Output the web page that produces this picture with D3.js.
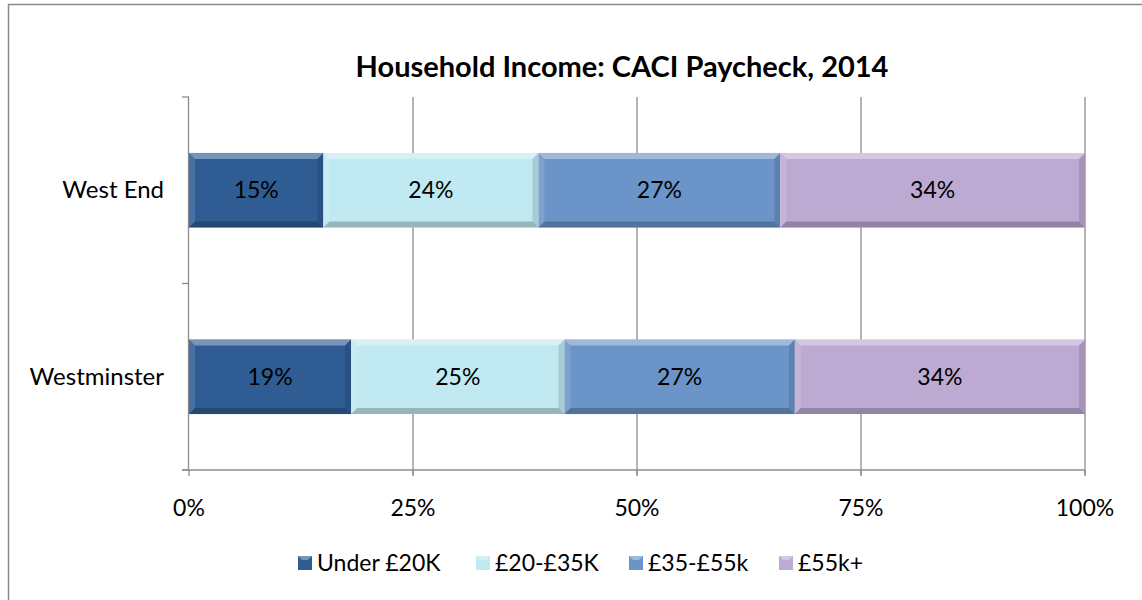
<!DOCTYPE html>
<html>
<head>
<meta charset="utf-8">
<script src="https://cdn.jsdelivr.net/npm/d3@7"></script>
<style>
  body { margin: 0; background: #fff; }
  text { font-family: Lato, "Open Sans", sans-serif; fill: #000; }
</style>
</head>
<body>
<div id="chart"></div>
<script>
const categories = ['West End', 'Westminster'];
const series = ['Under £20K', '£20-£35K', '£35-£55k', '£55k+'];
const westEnd = [15, 24, 27, 34];
const westminster = [19, 25, 27, 34];
const ticks = [0, 0.25, 0.5, 0.75, 1];
const colors = ['#2f5d93', '#c0e9f1', '#6b94c9', '#bdaad3'];

const W = 1142, H = 600;
const rows = [westEnd, westminster];

const svg = d3.select('#chart').append('svg')
    .attr('width', W)
    .attr('height', H);

// chart frame
svg.append('rect')
    .attr('x', 8.5).attr('y', 4.5)
    .attr('width', W + 10).attr('height', H + 10)
    .attr('fill', 'none')
    .attr('stroke', '#8a8a8a')
    .attr('stroke-width', 1.5);

svg.append('text')
    .attr('x', 622).attr('y', 77)
    .attr('text-anchor', 'middle')
    .style('font-size', '29px')
    .style('font-weight', 'bold')
    .text('Household Income: CACI Paycheck, 2014');

const x = d3.scaleLinear().domain([0, 1]).range([189, 1085]);
const y = d3.scaleBand().domain(categories).range([97, 470]).paddingInner(0.6).paddingOuter(0.3);

// gridlines
svg.append('g')
    .selectAll('line')
    .data(ticks.slice(1))
    .enter().append('line')
    .attr('x1', d => x(d)).attr('x2', d => x(d))
    .attr('y1', 97).attr('y2', 475)
    .attr('stroke', '#8c8c8c')
    .attr('stroke-width', 1.3);

// y axis with ticks at band edges
const yEdges = [97, 97 + 373 / 2, 470];
svg.append('line')
    .attr('x1', 188.5).attr('x2', 188.5)
    .attr('y1', 97).attr('y2', 470)
    .attr('stroke', '#8c8c8c').attr('stroke-width', 1.3);
svg.append('g').selectAll('line')
    .data(yEdges)
    .enter().append('line')
    .attr('x1', 182).attr('x2', 189)
    .attr('y1', d => d).attr('y2', d => d)
    .attr('stroke', '#8c8c8c').attr('stroke-width', 1.3);

// x axis
svg.append('line')
    .attr('x1', 182).attr('x2', 1085)
    .attr('y1', 470).attr('y2', 470)
    .attr('stroke', '#8c8c8c').attr('stroke-width', 1.3);
svg.append('g').selectAll('line')
    .data(ticks)
    .enter().append('line')
    .attr('x1', d => x(d)).attr('x2', d => x(d))
    .attr('y1', 470).attr('y2', 476)
    .attr('stroke', '#8c8c8c').attr('stroke-width', 1.3);
svg.append('g').selectAll('text')
    .data(ticks)
    .enter().append('text')
    .attr('x', d => x(d)).attr('y', 516)
    .attr('text-anchor', 'middle')
    .style('font-size', '23px')
    .text(d3.format('.0%'));

svg.append('g').selectAll('text')
    .data(categories)
    .enter().append('text')
    .attr('x', 164)
    .attr('y', d => y(d) + y.bandwidth() / 2 + 8)
    .attr('text-anchor', 'end')
    .style('font-size', '24px')
    .text(d => d);

// stacked segments, normalised to 100%
const segs = [];
rows.forEach((vals, i) => {
    const total = d3.sum(vals);
    let acc = 0;
    vals.forEach((v, j) => {
        segs.push({cat: categories[i], s: j, v: v, x0: acc / total, x1: (acc + v) / total});
        acc += v;
    });
});

const bev = 6;
const bar = svg.append('g').selectAll('g')
    .data(segs)
    .enter().append('g');

bar.append('rect')
    .attr('x', d => x(d.x0)).attr('y', d => y(d.cat))
    .attr('width', d => x(d.x1) - x(d.x0))
    .attr('height', y.bandwidth())
    .attr('fill', d => colors[d.s]);

function bevel(d, side) {
    const x0 = x(d.x0), x1 = x(d.x1), y0 = y(d.cat), y1 = y0 + y.bandwidth();
    const p = {
        top: [[x0, y0], [x1, y0], [x1 - bev, y0 + bev], [x0 + bev, y0 + bev]],
        bottom: [[x0, y1], [x1, y1], [x1 - bev, y1 - bev], [x0 + bev, y1 - bev]],
        left: [[x0, y0], [x0 + bev, y0 + bev], [x0 + bev, y1 - bev], [x0, y1]],
        right: [[x1, y0], [x1 - bev, y0 + bev], [x1 - bev, y1 - bev], [x1, y1]]
    };
    return p[side].join(' ');
}

const shades = [['top', '#fff', 0.35], ['left', '#fff', 0.12], ['right', '#000', 0.12], ['bottom', '#000', 0.22]];
shades.forEach(([side, c, o]) => {
    bar.append('polygon')
        .attr('points', d => bevel(d, side))
        .attr('fill', c)
        .attr('fill-opacity', o);
});

bar.append('text')
    .attr('x', d => (x(d.x0) + x(d.x1)) / 2)
    .attr('y', d => y(d.cat) + y.bandwidth() / 2 + 8)
    .attr('text-anchor', 'middle')
    .style('font-size', '23px')
    .text(d => d.v + '%');

// legend
const legX = [298, 476, 629, 779];
const leg = svg.append('g').selectAll('g')
    .data(series)
    .enter().append('g')
    .attr('transform', (d, i) => `translate(${legX[i]},556)`);
leg.append('rect')
    .attr('width', 14).attr('height', 14)
    .attr('fill', (d, i) => colors[i]);
leg.append('polygon')
    .attr('points', '0,0 14,0 10,4 4,4')
    .attr('fill', '#fff').attr('fill-opacity', 0.35);
leg.append('text')
    .attr('x', 19).attr('y', 15)
    .style('font-size', '23px')
    .text(d => d);
</script>
</body>
</html>
